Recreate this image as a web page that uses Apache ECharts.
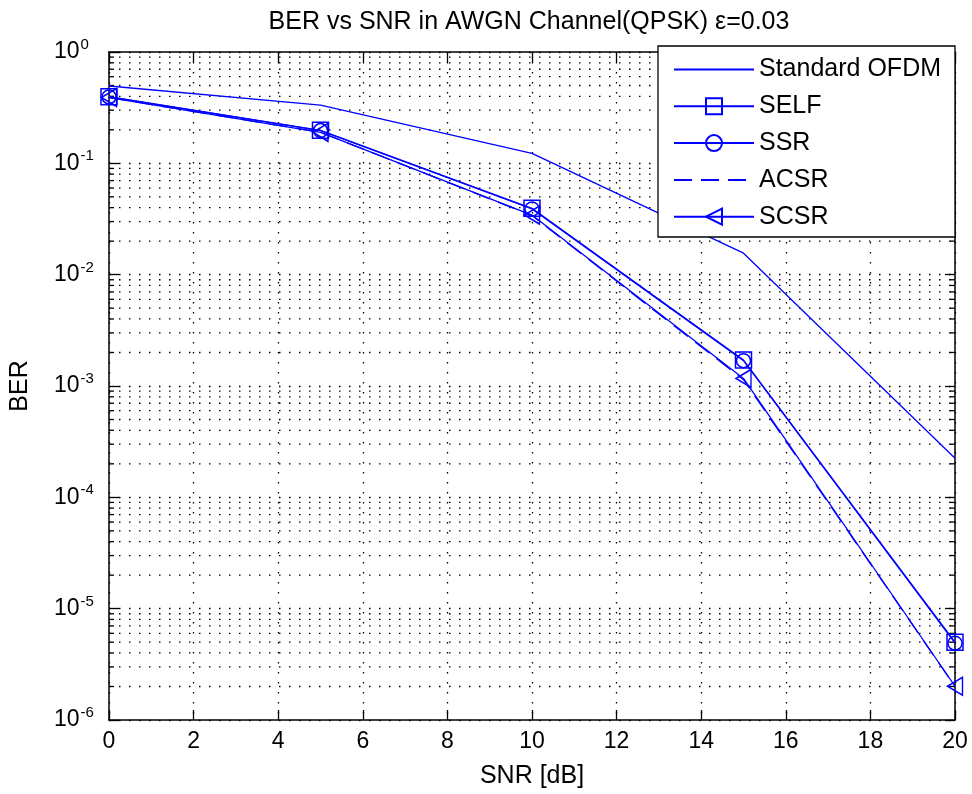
<!DOCTYPE html>
<html>
<head>
<meta charset="utf-8">
<script src="https://cdn.jsdelivr.net/npm/echarts@6/dist/echarts.min.js"></script>
<style>
html,body{margin:0;padding:0;background:#fff;}
#chart{width:972px;height:794px;}
</style>
</head>
<body>
<div id="chart"></div>
<script>
// ---- data ----
const snr = [0, 5, 10, 15, 20];
const berStandard = [0.495, 0.334, 0.123, 0.0156, 2.24e-4];
const berSELF = [0.397, 0.198, 0.0394, 1.71e-3, 5.0e-6];
const berSSR = [0.395, 0.197, 0.0389, 1.69e-3, 4.9e-6];
const berACSR = [0.39, 0.19, 0.0340, 1.14e-3, 2.0e-6];
const berSCSR = [0.39, 0.19, 0.0343, 1.17e-3, 2.01e-6];
const seriesNames = ['Standard OFDM', 'SELF', 'SSR', 'ACSR', 'SCSR'];
const decadeExponents = [-6, -5, -4, -3, -2, -1];
const minorMultipliers = [2, 3, 4, 5, 6, 7, 8, 9];
const titleText = 'BER vs SNR in AWGN Channel(QPSK) \u03b5=0.03';

const FONT = "'Liberation Sans', Arial, sans-serif";
const BLUE = '#0000ff';
const xMin = 0, xMax = 20;

const pairs = arr => snr.map((x, i) => [x, arr[i]]);
const minorValues = [];
decadeExponents.forEach(e => minorMultipliers.forEach(m => minorValues.push([xMin, m * Math.pow(10, e)])));

const chart = echarts.init(document.getElementById('chart'), null, {renderer: 'canvas'});

const markerStyle = {color: 'rgba(0,0,0,0)', borderColor: BLUE, borderWidth: 1.5};
const noMarkerStyle = {color: 'rgba(0,0,0,0)', borderColor: 'rgba(0,0,0,0)', borderWidth: 0};
const lineStyle = {color: BLUE, width: 1.3};

const option = {
  backgroundColor: '#fff',
  animation: false,
  title: {
    text: titleText,
    left: 524, top: 5, textAlign: 'center',
    textStyle: {fontFamily: FONT, fontSize: 25, fontWeight: 'normal', color: '#000'}
  },
  grid: {left: 104, right: 17, top: 52, bottom: 74, containLabel: false},
  xAxis: [{
    type: 'value', min: xMin, max: xMax, interval: 2, position: 'bottom',
    name: 'SNR [dB]', nameLocation: 'middle', nameGap: 44,
    nameTextStyle: {fontFamily: FONT, fontSize: 25, color: '#000'},
    axisLine: {show: true, onZero: false, lineStyle: {color: '#000', width: 1.5}},
    axisTick: {show: true, inside: true, length: 10, lineStyle: {color: '#000', width: 1.3}},
    axisLabel: {fontFamily: FONT, fontSize: 23, color: '#000', margin: 10},
    splitLine: {show: true, lineStyle: {color: '#000', width: 1.3, type: [1.5, 8.5]}}
  }, {
    type: 'value', min: xMin, max: xMax, interval: 2, position: 'top',
    axisLine: {show: true, onZero: false, lineStyle: {color: '#000', width: 1.5}},
    axisTick: {show: true, inside: true, length: 10, lineStyle: {color: '#000', width: 1.3}},
    axisLabel: {show: false}, splitLine: {show: false}
  }],
  yAxis: [{
    type: 'log', logBase: 10, min: 1e-6, max: 1, position: 'left',
    name: 'BER', nameLocation: 'middle', nameGap: 76, nameRotate: 90,
    nameTextStyle: {fontFamily: FONT, fontSize: 25, color: '#000'},
    axisLine: {show: true, onZero: false, lineStyle: {color: '#000', width: 1.5}},
    axisTick: {show: true, inside: true, length: 10, lineStyle: {color: '#000', width: 1.3}},
    axisLabel: {
      align: 'left', margin: 55, color: '#000',
      formatter: v => '{b|10}{e|' + Math.round(Math.log10(v)) + '}',
      rich: {
        b: {fontFamily: FONT, fontSize: 23, color: '#000'},
        e: {fontFamily: FONT, fontSize: 15, color: '#000', padding: [0, 0, 14, 1]}
      }
    },
    splitLine: {show: true, lineStyle: {color: '#000', width: 1.3, type: [1.5, 8.5]}}
  }, {
    type: 'log', logBase: 10, min: 1e-6, max: 1, position: 'right',
    axisLine: {show: true, onZero: false, lineStyle: {color: '#000', width: 1.5}},
    axisTick: {show: true, inside: true, length: 10, lineStyle: {color: '#000', width: 1.3}},
    axisLabel: {show: false}, splitLine: {show: false}
  }],
  legend: {
    data: [
      {name: seriesNames[0], itemStyle: {opacity: 0}},
      seriesNames[1], seriesNames[2],
      {name: seriesNames[3], itemStyle: {opacity: 0}},
      seriesNames[4]
    ],
    orient: 'vertical', left: 673, top: 57, padding: 0,
    itemWidth: 80, itemHeight: 20, itemGap: 11.8, z: 12,
    textStyle: {fontFamily: FONT, fontSize: 25, color: '#000'}
  },
  graphic: [{
    type: 'rect', z: 11, silent: true,
    shape: {x: 658, y: 46, width: 297, height: 191},
    style: {fill: '#fff', stroke: '#000', lineWidth: 1.3}
  }],
  series: [
    {
      type: 'custom', name: 'minorGrid', silent: true, z: 1,
      xAxisIndex: 0, yAxisIndex: 0, clip: false,
      data: minorValues,
      renderItem: (params, api) => {
        const v = api.value(1);
        const p0 = api.coord([xMin, v]);
        const p1 = api.coord([xMax, v]);
        return {type: 'group', children: [
          {type: 'line', shape: {x1: p0[0], y1: p0[1], x2: p1[0], y2: p1[1]},
           style: {stroke: '#000', lineWidth: 1.3, lineDash: [1.5, 8.5]}},
          {type: 'line', shape: {x1: p0[0], y1: p0[1], x2: p0[0] + 5, y2: p0[1]},
           style: {stroke: '#000', lineWidth: 1.3}},
          {type: 'line', shape: {x1: p1[0] - 5, y1: p1[1], x2: p1[0], y2: p1[1]},
           style: {stroke: '#000', lineWidth: 1.3}}
        ]};
      }
    },
    {name: 'Standard OFDM', type: 'line', data: pairs(berStandard), symbol: 'none',
     lineStyle: lineStyle, itemStyle: noMarkerStyle, z: 3},
    {name: 'SELF', type: 'line', data: pairs(berSELF), symbol: 'rect', symbolSize: 16,
     showAllSymbol: true, lineStyle: lineStyle, itemStyle: markerStyle, z: 3},
    {name: 'SSR', type: 'line', data: pairs(berSSR), symbol: 'circle', symbolSize: 14,
     showAllSymbol: true, lineStyle: lineStyle, itemStyle: markerStyle, z: 3},
    {name: 'ACSR', type: 'line', data: pairs(berACSR), symbol: 'none',
     lineStyle: {color: BLUE, width: 1.3, type: [18, 9]}, itemStyle: noMarkerStyle, z: 3},
    {name: 'SCSR', type: 'line', data: pairs(berSCSR), symbol: 'path://M0,9 L15,0 L15,18 Z', symbolSize: [15, 18],
     showAllSymbol: true, lineStyle: lineStyle, itemStyle: markerStyle, z: 3}
  ]
};
chart.setOption(option);
</script>
</body>
</html>
